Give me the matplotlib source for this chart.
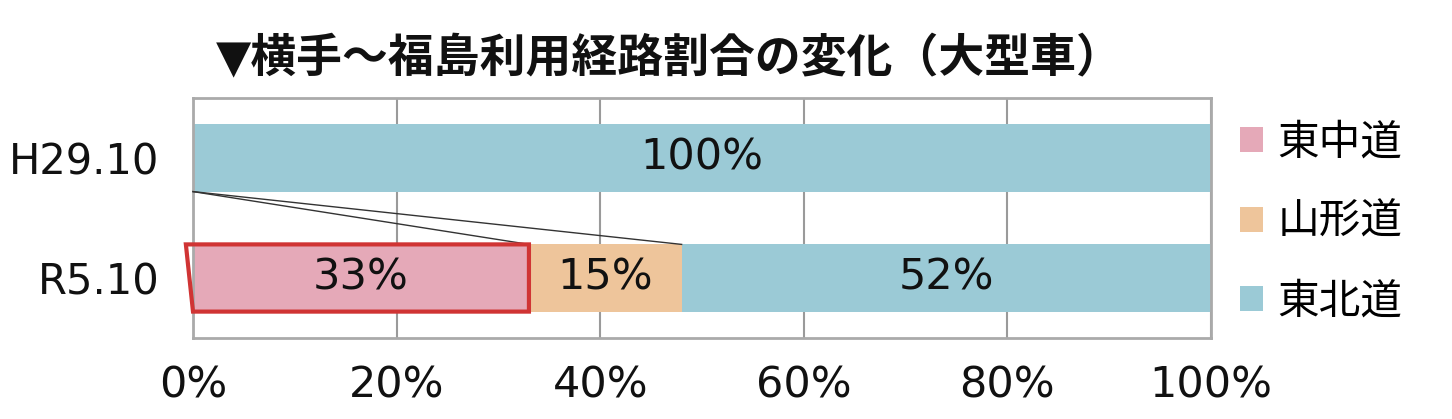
import matplotlib
matplotlib.use("Agg")
import matplotlib.pyplot as plt
from matplotlib.patches import Patch, Polygon

plt.rcParams['font.family'] = ['DejaVu Sans', 'Noto Sans CJK JP']

title = "▼横手～福島利用経路割合の変化（大型車）"
categories = ["H29.10", "R5.10"]
series_names = ["東中道", "山形道", "東北道"]
values = {
    "東中道": [0, 33],
    "山形道": [0, 15],
    "東北道": [100, 52],
}
colors = ["#E5A9B8", "#EEC59B", "#9BCAD6"]
xticks = [0, 20, 40, 60, 80, 100]

fig = plt.figure(figsize=(14.52, 4.19), dpi=100)
ax = fig.add_axes([193/1452, 1-338/419, (1211-193)/1452, 240/419])

ypos = list(range(len(categories)))
bar_h = 0.56
left = [0]*len(categories)
for name, col in zip(series_names, colors):
    vals = values[name]
    ax.barh(ypos, vals, left=left, height=bar_h, color=col, zorder=2)
    for y, v, l in zip(ypos, vals, left):
        if v > 0:
            ax.text(l + v/2, y, f"{v}%", ha='center', va='center', fontsize=31, color='#111111', zorder=4)
    left = [a+b for a, b in zip(left, vals)]

ax.set_ylim(1.5, -0.5)
ax.set_xlim(0, 100)
ax.set_yticks(ypos)
ax.set_yticklabels(categories, fontsize=30)
ax.set_xticks(xticks)
ax.set_xticklabels([f"{t}%" for t in xticks], fontsize=31)
ax.tick_params(axis='both', length=0, colors='#111111')
ax.tick_params(axis='x', pad=19)
ax.tick_params(axis='y', pad=24)
ax.grid(axis='x', color='#9a9a9a', lw=1.5, zorder=1)
ax.set_axisbelow(True)
for s in ax.spines.values():
    s.set_color('#aaaaaa')
    s.set_linewidth(2)

# connector lines from the H29 bar to the R5 segments
y_top_bar_bottom = 0 + bar_h/2
y_bot_bar_top = 1 - bar_h/2
c1 = values["東中道"][1]
c2 = c1 + values["山形道"][1]
ax.plot([0, c1], [y_top_bar_bottom, y_bot_bar_top], color='#333333', lw=1.0, zorder=3, clip_on=False)
ax.plot([0, c2], [y_top_bar_bottom, y_bot_bar_top], color='#333333', lw=1.0, zorder=3, clip_on=False)

# red highlight box around 東中道 segment
poly = Polygon([(-0.7, 1 - bar_h/2), (c1, 1 - bar_h/2), (c1, 1 + bar_h/2), (0, 1 + bar_h/2)],
               closed=True, fill=False, edgecolor='#D03434', lw=3, zorder=5, clip_on=False)
ax.add_patch(poly)

handles = [Patch(facecolor=c, edgecolor='none') for c in colors]
fig.legend(handles, series_names, loc='center left', bbox_to_anchor=(1240/1452, 1-222/419),
           frameon=False, fontsize=30, handlelength=0.55, handleheight=0.55,
           handletextpad=0.35, labelspacing=0.9, borderaxespad=0, borderpad=0)

fig.text(216/1452, 1-60/419, title, fontsize=33, fontweight='bold', ha='left', va='center', color='#111111')

fig.savefig("out.png", dpi=100)
